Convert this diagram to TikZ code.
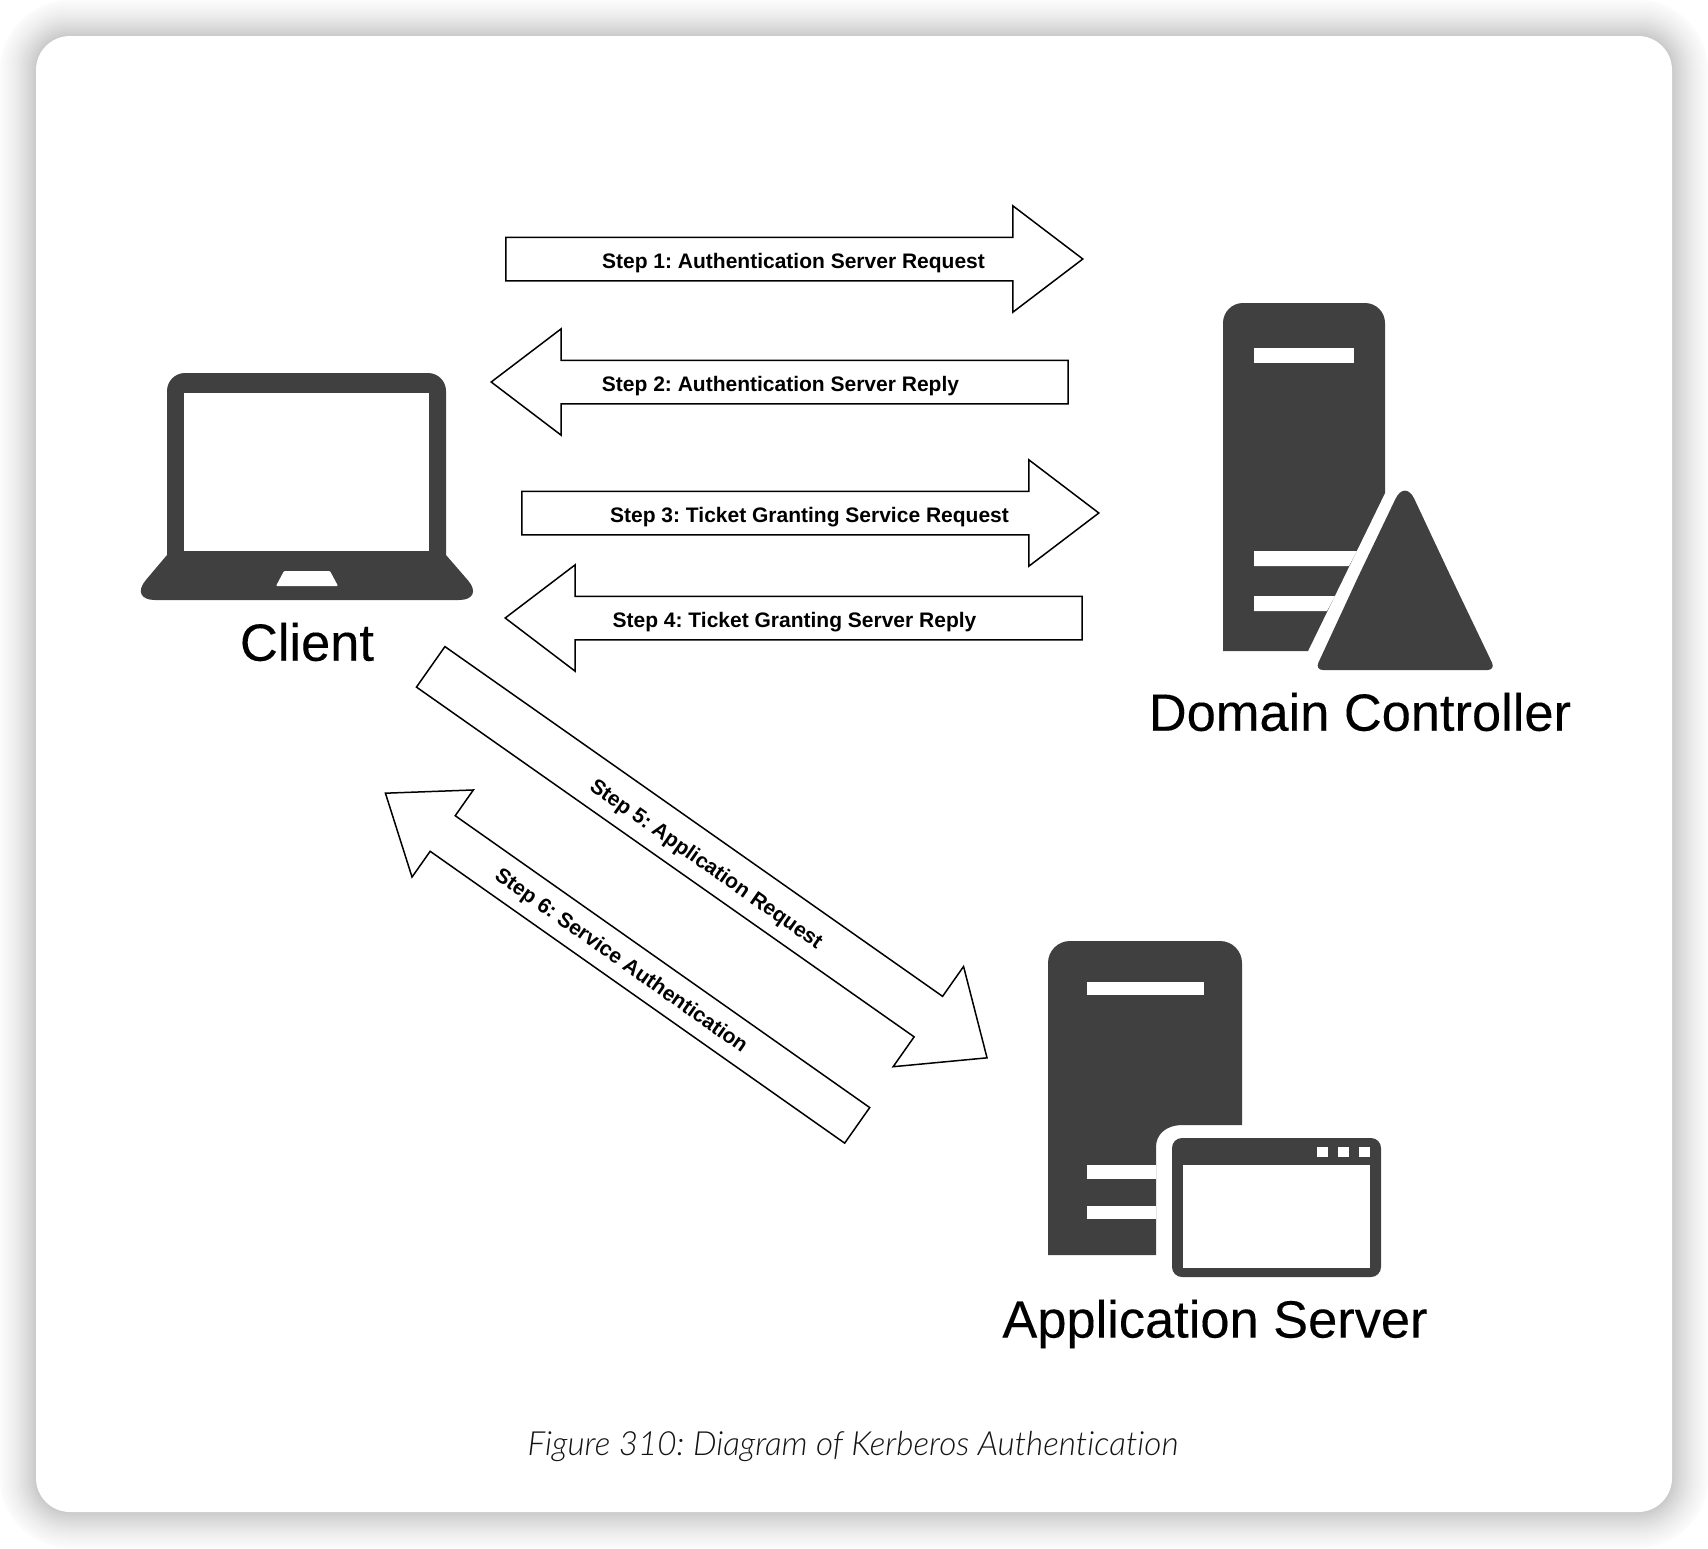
\documentclass[tikz,border=0pt]{standalone}
\usepackage{fontspec}
\setmainfont{Liberation Sans}
\newfontfamily\capfont[ItalicFont={Lato Light Italic},Ligatures=NoCommon]{Lato}
\newfontfamily\bigfont[FakeBold=0.2]{Liberation Sans}
\usetikzlibrary{shapes.arrows}
\definecolor{icongray}{HTML}{404040}
\newcommand{\steppad}{\hspace*{27pt}}
\tikzset{
stepbox/.style={shape=single arrow,draw=black,fill=white,line width=1.5pt,single arrow head indent=0pt,inner xsep=0pt,inner ysep=11pt,text height=19.5pt,text depth=0.5pt,minimum height=577pt,single arrow head extend=31.5pt,single arrow tip angle=74.5,font=\fontsize{21}{21}\selectfont\bfseries},
backward/.style={shape border rotate=180},
biglabel/.style={font=\bigfont\fontsize{52.4}{52.4}\selectfont},
icon/.style={fill=icongray},
hole/.style={fill=white}
}
\newcommand{\cardshape}[1]{(36-#1,36-#1) rectangle (1672+#1,1512+#1)}
\begin{document}
\frenchspacing
\begin{tikzpicture}[x=1pt,y=-1pt]
\useasboundingbox (0,0) rectangle (1708,1548);
\foreach \d in {36,35,...,0}{
\pgfmathsetmacro{\shade}{21*(1-\d/44)^1.6}
\fill[black!\shade!white,rounded corners=34pt+\d pt] \cardshape{\d};
}
\fill[white,rounded corners=34pt] \cardshape{0};
\node[stepbox] (stepa) at (780,259) {\steppad Step 1: Authentication Server Request};
\node[stepbox,backward] (stepb) at (794,382) {Step 2: Authentication Server Reply\steppad};
\node[stepbox] (stepc) at (796,513) {\steppad Step 3: Ticket Granting Service Request};
\node[stepbox,backward] (stepd) at (808,618) {Step 4: Ticket Granting Server Reply\steppad};
\node[stepbox,rotate=-35.1,minimum height=680pt,inner ysep=14pt,single arrow head extend=36.5pt,single arrow tip angle=81] (stepe) at (697,854) {\steppad Step 5: Application Request};
\node[stepbox,backward,rotate=-35.15,text height=17.5pt,text depth=2.5pt] (stepf) at (633,967.5) {Step 6: Service Authentication\steppad};
\fill[icon] (167,560) [rounded corners=18pt] -- (167,373) -- (446,373) [sharp corners] -- (446,555) [rounded corners=26pt] -- (485,600) -- (129,600) [sharp corners] -- (167,555) -- cycle;
\fill[hole] (184,393) rectangle (429,551);
\fill[hole,rounded corners=1pt] (284,571) -- (330,571) -- (338,586) -- (276,586) -- cycle;
\node[biglabel] (client) at (307,642) {Client};
\fill[icon] (1223,651) [rounded corners=20pt] -- (1223,303) -- (1385,303) [sharp corners] -- (1385,493) -- (1308,651) -- cycle;
\fill[hole] (1254,348) rectangle (1354,363);
\fill[hole] (1254,551) -- (1357,551) -- (1349,566) -- (1254,566) -- cycle;
\fill[hole] (1254,596) -- (1335,596) -- (1327,611) -- (1254,611) -- cycle;
\fill[icon] (1359,575) [rounded corners=22pt] -- (1405,479) -- (1450,575) [rounded corners=8pt] -- (1495.5,670) -- (1315,670) -- cycle;
\node[biglabel] (dc) at (1360,712) {Domain Controller};
\fill[icon] (1048,1255) [rounded corners=22pt] -- (1048,941) -- (1242,941) [sharp corners] -- (1242,1125) -- (1183,1125) .. controls (1165,1125) and (1156,1135) .. (1156,1147) -- (1156,1255) -- cycle;
\fill[hole] (1087,982) rectangle (1204,995);
\fill[hole] (1087,1165) rectangle (1156,1179);
\fill[hole] (1087,1206) rectangle (1156,1219);
\fill[icon,rounded corners=10pt] (1172,1138) rectangle (1381,1277);
\fill[hole] (1183,1165) rectangle (1370,1268);
\foreach \x in {1317,1338,1359}{
\fill[hole] (\x,1147) rectangle (\x+11,1157);
}
\node[biglabel] (app) at (1215,1324) {Application Server};
\node[font=\capfont\itshape\fontsize{33.3}{33.3}\selectfont,text=black!92] (caption) at (853,1446) {Figure 310: Diagram of Kerberos Authentication};
\end{tikzpicture}
\end{document}
